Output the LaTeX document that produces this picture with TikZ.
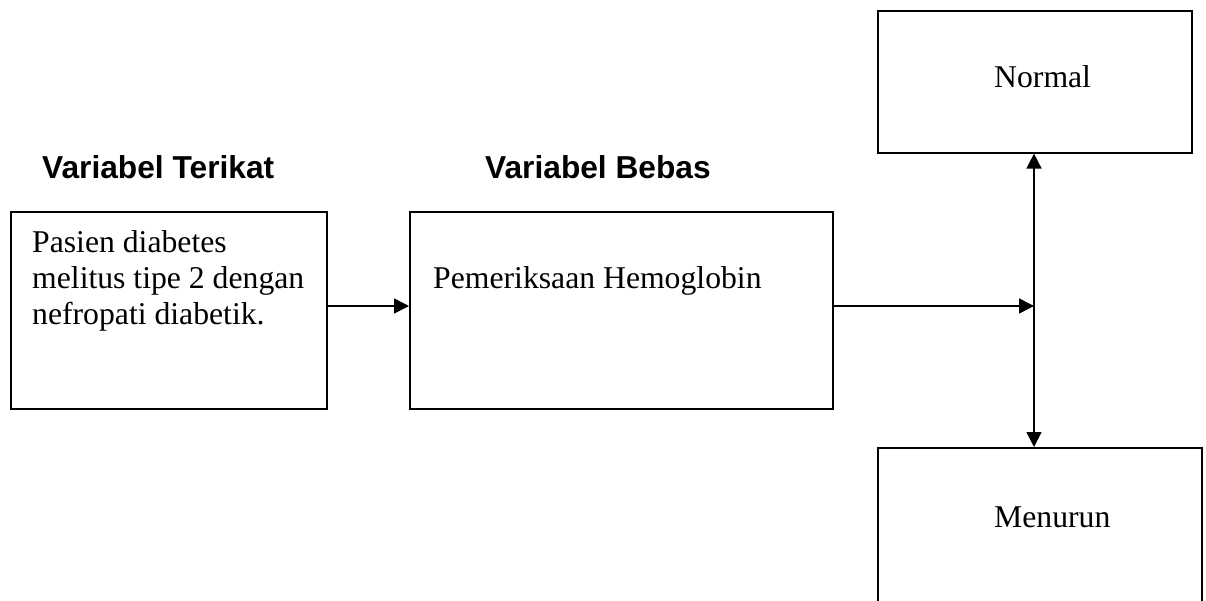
\documentclass[tikz,border=0pt]{standalone}
\usepackage{fontspec}
\setmainfont{Liberation Serif}
\newfontfamily\headfont{Liberation Sans}
\usetikzlibrary{arrows.meta}
\tikzset{
  box/.style={draw=black, line width=1.6pt, rectangle, inner sep=0pt, anchor=north west},
  txt/.style={inner sep=0pt, font=\fontsize{31.7}{36}\selectfont, align=left},
  head/.style={inner sep=0pt, font=\headfont\bfseries\fontsize{31.7}{36}\selectfont},
  conn/.style={line width=1.6pt, -{Triangle[length=15pt,width=15pt]}}
}
\begin{document}
\begin{tikzpicture}[x=1pt,y=1pt]
\useasboundingbox (0,0) rectangle (1206,-600);
\clip (0,0) rectangle (1206,-600);
% headings
\node[head, anchor=base west] (h1) at (42,-178) {Variabel Terikat};
\node[head, anchor=base west] (h2) at (485,-178) {Variabel Bebas};
% boxes
\node[box, minimum width=316pt, minimum height=197pt] (terikat) at (10,-211) {};
\node[box, minimum width=423pt, minimum height=197pt] (bebas) at (409,-211) {};
\node[box, minimum width=314pt, minimum height=142pt] (normal) at (877,-10) {};
\node[box, minimum width=324pt, minimum height=200pt] (menurun) at (877,-447) {};
% texts
\node[txt, anchor=base west] (t1a) at (32,-252) {Pasien diabetes};
\node[txt, anchor=base west] (t1b) at (32,-288) {melitus tipe 2 dengan};
\node[txt, anchor=base west] (t1c) at (32,-324) {nefropati diabetik.};
\node[txt, anchor=base west] (t2) at (433,-288) {Pemeriksaan Hemoglobin};
\node[txt, anchor=base west] (t3) at (994,-87) {Normal};
\node[txt, anchor=base west] (t4) at (994,-527) {Menurun};
% connectors
\coordinate (j) at (1034,-306);
\draw[conn] (terikat.east |- j) -- (bebas.west |- j);
\draw[conn] (bebas.east |- j) -- (j);
\draw[conn] (j) -- (normal.south -| j);
\draw[conn] (j) -- (menurun.north -| j);
\end{tikzpicture}
\end{document}
